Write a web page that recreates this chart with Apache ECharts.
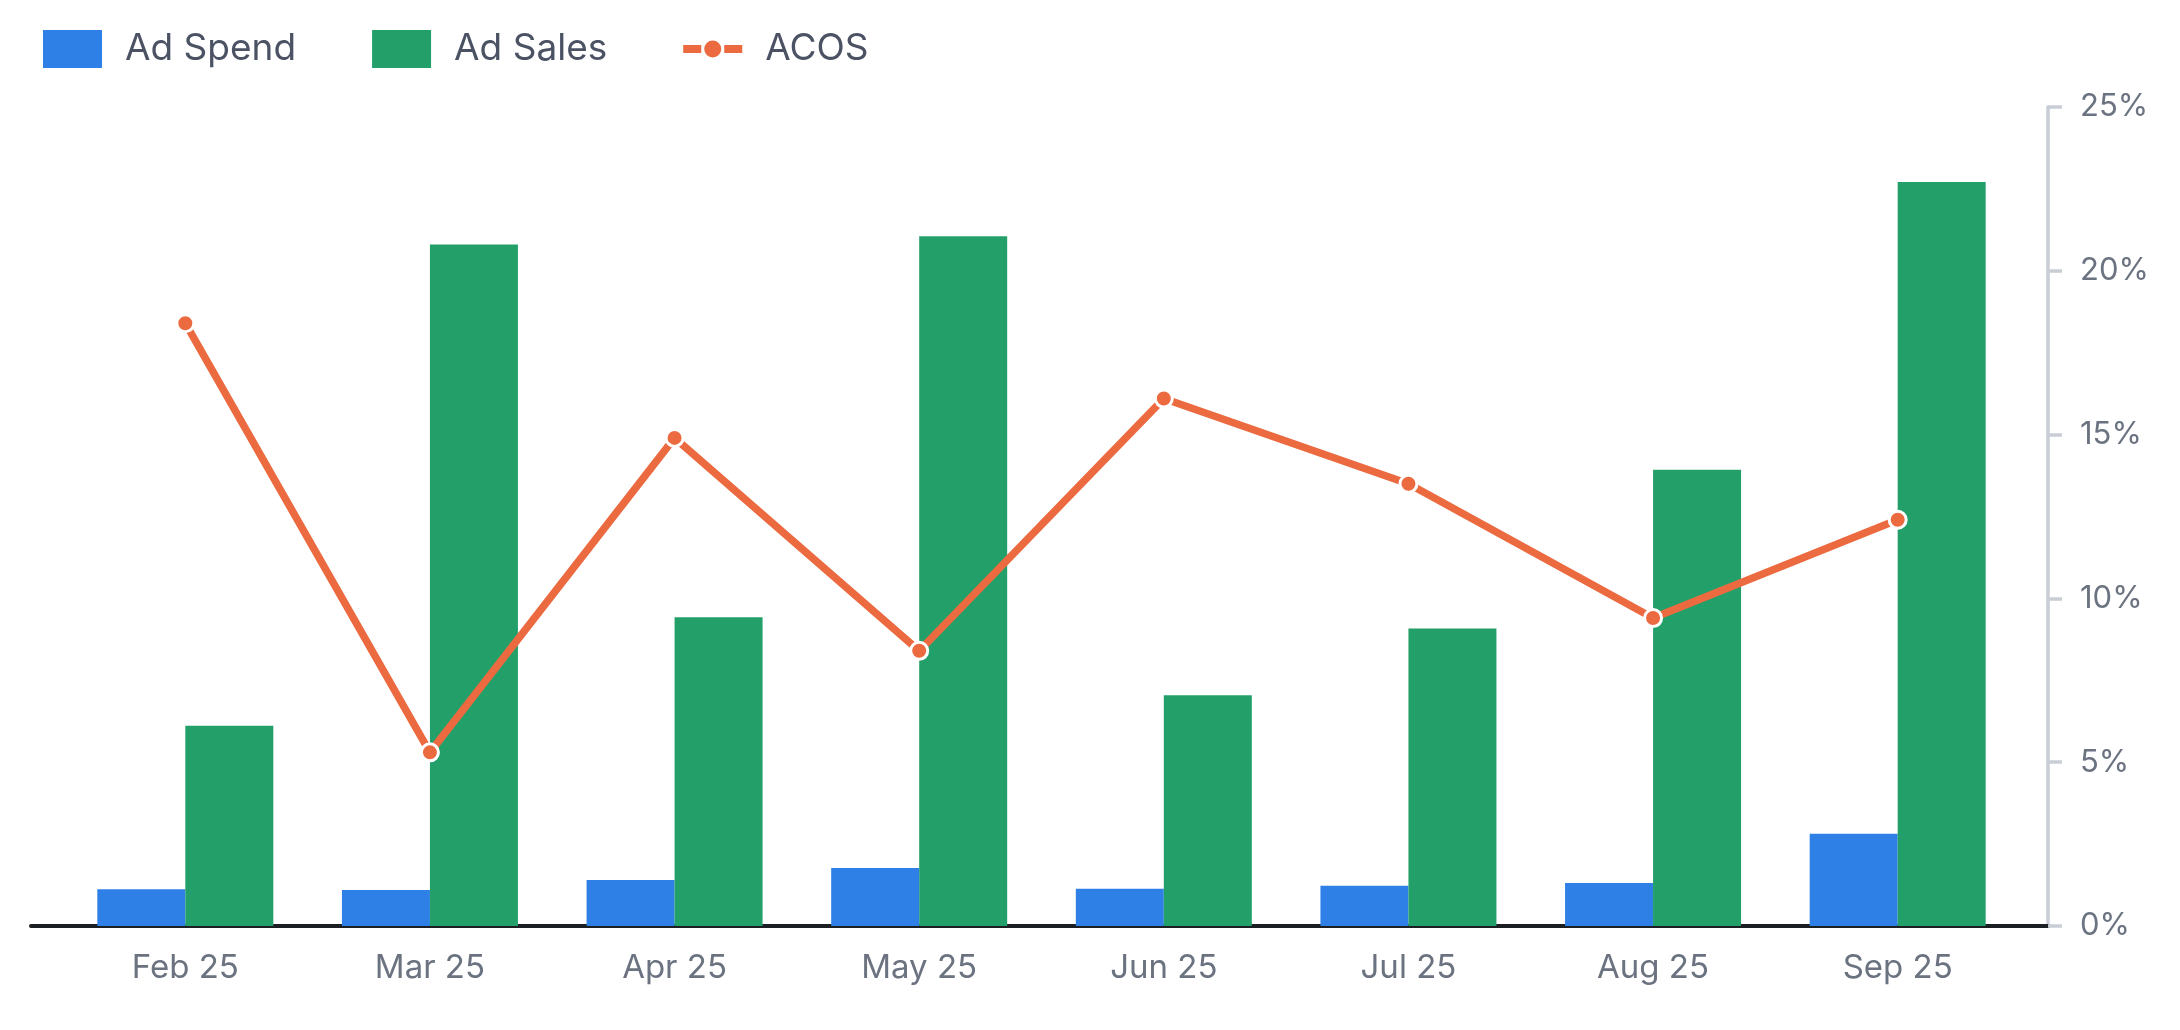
<!DOCTYPE html>
<html style="height: 100%">
<head>
  <meta charset="utf-8">
  <title>Ad Spend / Ad Sales / ACOS</title>
  <script src="https://cdn.jsdelivr.net/npm/echarts@6/dist/echarts.min.js"></script>
</head>
<body style="height: 100%; margin: 0; background: #fff">
  <div id="main" style="width: 2180px; height: 1030px"></div>
  <script type="text/javascript">
    var months = ['Feb 25', 'Mar 25', 'Apr 25', 'May 25', 'Jun 25', 'Jul 25', 'Aug 25', 'Sep 25'];
    var adSpend = [225, 220, 281, 354, 227, 245, 262, 563];
    var adSales = [1222, 4160, 1885, 4211, 1409, 1817, 2785, 4542];
    var acos = [18.4, 5.3, 14.9, 8.4, 16.1, 13.5, 9.4, 12.4];
    var acosTicks = [0, 5, 10, 15, 20, 25];

    var font = 'Inter, "Noto Sans", sans-serif';

    // dash - dot - dash legend mark; the two tiny squares fix the box size
    var acosIcon = 'path://M0,0h0.01v0.01h-0.01z M59,37h-0.01v-0.01h0.01z ' +
      'M0,14.5h18v8h-18z M41,14.5h18v8h-18z ' +
      'M21,18.5a8.5,8.5 0 1,0 17,0a8.5,8.5 0 1,0 -17,0z';

    var option = {
      animation: false,
      textStyle: { fontFamily: font },
      legend: {
        left: 38,
        top: 25,
        itemWidth: 59,
        itemHeight: 38,
        itemGap: 76,
        textStyle: { fontSize: 37, color: '#4b5263', padding: [0, 0, 0, 18] },
        data: [
          { name: 'Ad Spend', icon: 'rect' },
          { name: 'Ad Sales', icon: 'rect' },
          { name: 'ACOS', icon: acosIcon, itemStyle: { color: '#ec6a40', borderWidth: 0 } }
        ]
      },
      grid: [
        { left: 63, right: 160, top: 107, bottom: 104 },
        { left: 31, right: 132, top: 107, bottom: 104 }
      ],
      xAxis: [
        {
          type: 'category',
          gridIndex: 0,
          data: months,
          axisLine: { show: false },
          axisTick: { show: false },
          axisLabel: { color: '#6b7280', fontSize: 33, margin: 26 }
        },
        {
          type: 'value',
          gridIndex: 1,
          min: 0,
          max: 1,
          axisLine: { show: true, lineStyle: { color: '#1b1e22', width: 4 } },
          axisTick: { show: false },
          axisLabel: { show: false },
          splitLine: { show: false }
        }
      ],
      yAxis: [
        {
          type: 'value',
          gridIndex: 0,
          min: 0,
          max: 5000,
          show: false
        },
        {
          type: 'value',
          gridIndex: 0,
          position: 'right',
          offset: 28,
          min: 0,
          max: 25,
          interval: 5,
          axisLine: { show: true, lineStyle: { color: '#c9ced6', width: 3.5 } },
          axisTick: { show: true, length: 14, lineStyle: { color: '#c9ced6', width: 3.5 } },
          splitLine: { show: false },
          axisLabel: {
            color: '#6b7280',
            fontSize: 31,
            margin: 32,
            formatter: function (v) {
              return acosTicks.indexOf(v) >= 0 ? v + '%' : '';
            }
          }
        },
        {
          type: 'value',
          gridIndex: 1,
          show: false
        }
      ],
      series: [
        {
          name: 'Ad Spend',
          type: 'bar',
          xAxisIndex: 0,
          yAxisIndex: 0,
          barWidth: 88,
          barGap: '0%',
          itemStyle: { color: '#2e7fe6' },
          data: adSpend
        },
        {
          name: 'Ad Sales',
          type: 'bar',
          xAxisIndex: 0,
          yAxisIndex: 0,
          barWidth: 88,
          barGap: '0%',
          itemStyle: { color: '#23a06a' },
          data: adSales
        },
        {
          name: 'ACOS',
          type: 'line',
          xAxisIndex: 0,
          yAxisIndex: 1,
          z: 5,
          symbol: 'circle',
          symbolSize: 17,
          lineStyle: { color: '#ec6a40', width: 7.5 },
          itemStyle: { color: '#ec6a40', borderColor: '#ffffff', borderWidth: 3 },
          data: acos
        }
      ]
    };

    var chart = echarts.init(document.getElementById('main'));
    chart.setOption(option);
  </script>
</body>
</html>
